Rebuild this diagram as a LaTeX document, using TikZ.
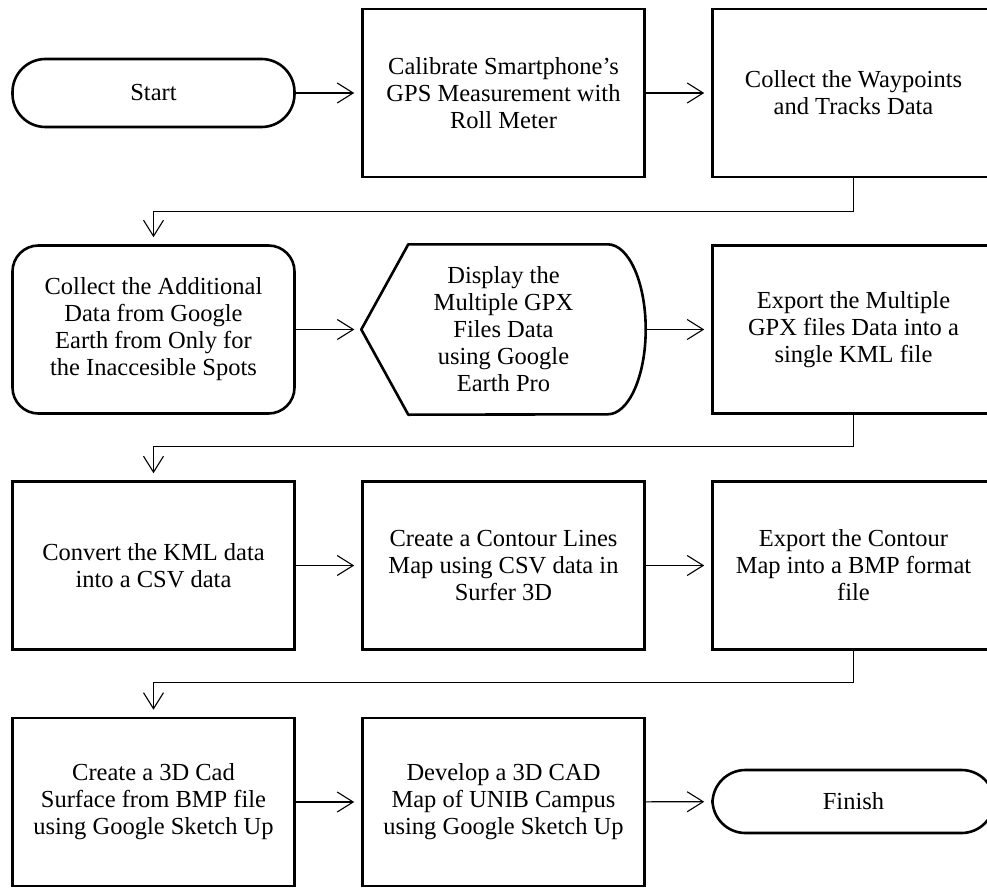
\documentclass[tikz,border=0pt]{standalone}
\usepackage{fontspec}
\setmainfont{Liberation Serif}
\usetikzlibrary{arrows.meta,calc}
\begin{document}
\begin{tikzpicture}[x=1pt,y=-1pt,
  txt/.style={font=\fontsize{24.5}{27}\selectfont, align=center},
  procbox/.style={txt, draw, line width=2.6pt, minimum width=282pt, minimum height=168pt, inner sep=0pt},
  roundbox/.style={procbox, rounded corners=26pt},
  term/.style={txt, draw, line width=2.6pt, minimum width=282pt, rounded corners=33pt, inner sep=0pt},
  flow/.style={line width=1.1pt, -{Straight Barb[length=16pt,width=20pt,line width=1.1pt]}, shorten >=7pt}
]
\useasboundingbox (0,0) rectangle (987,888);
\clip (0,0) rectangle (987,888);
% row 1
\node[term, minimum height=68pt] (start) at (153.5,93) {Start};
\node[procbox] (cal) at (503.5,93) {Calibrate Smartphone's\\GPS Measurement with\\Roll Meter};
\node[procbox] (way) at (853.5,93) {Collect the Waypoints\\and Tracks Data};
% row 2
\node[roundbox] (add) at (153.5,329.5) {Collect the Additional\\Data from Google\\Earth from Only for\\the Inaccesible Spots};
\node[txt, minimum width=284pt, minimum height=170pt, inner sep=0pt] (disp) at (503.5,329.5) {Display the\\Multiple GPX\\Files Data\\using Google\\Earth Pro};
\draw[line width=2.6pt, line join=round]
  (disp.west) -- ($(disp.north west)+(47,0)$) -- ($(disp.north east)+(-38,0)$)
  arc[start angle=90, end angle=-90, x radius=38pt, y radius=85pt]
  -- ($(disp.south west)+(47,0)$) -- cycle;
\node[procbox] (gpx) at (853.5,329.5) {Export the Multiple\\GPX files Data into a\\single KML file};
% row 3
\node[procbox] (csv) at (153.5,565.5) {Convert the KML data\\into a CSV data};
\node[procbox] (cont) at (503.5,565.5) {Create a Contour Lines\\Map using CSV data in\\Surfer 3D};
\node[procbox] (bmp) at (853.5,565.5) {Export the Contour\\Map into a BMP format\\file};
% row 4
\node[procbox] (surf) at (153.5,802) {Create a 3D Cad\\Surface from BMP file\\using Google Sketch Up};
\node[procbox] (cad) at (503.5,802) {Develop a 3D CAD\\Map of UNIB Campus\\using Google Sketch Up};
\node[term, minimum height=63pt] (fin) at (853.5,801.5) {Finish};
% connectors
\draw[flow] (start) -- (cal);
\draw[flow] (cal) -- (way);
\draw[flow] (way.south) -- ++(0,33) -| (add.north);
\draw[flow] (add) -- (disp.west);
\draw[flow] (disp.east) -- (gpx);
\draw[flow] (gpx.south) -- ++(0,32) -| (csv.north);
\draw[flow] (csv) -- (cont);
\draw[flow] (cont) -- (bmp);
\draw[flow] (bmp.south) -- ++(0,32) -| (surf.north);
\draw[flow] (surf) -- (cad);
\draw[flow] (cad) -- (fin);
\end{tikzpicture}
\end{document}
